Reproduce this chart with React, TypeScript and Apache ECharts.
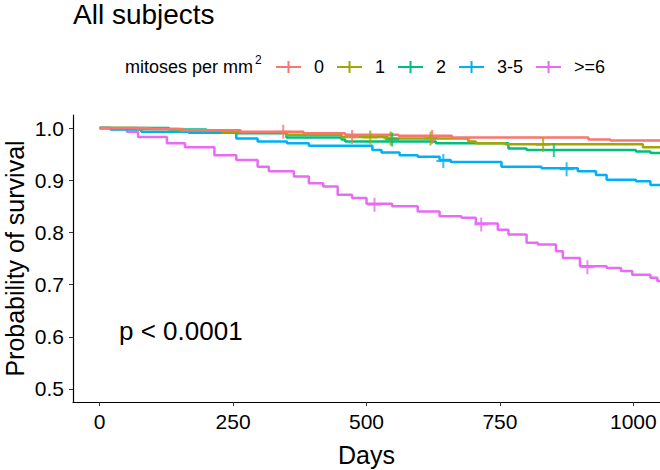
import React, { useEffect, useRef } from "react";
import * as echarts from "echarts";

const groups = ["0", "1", "2", "3-5", ">=6"];
const colors = ["#F8766D", "#A3A500", "#00BF7D", "#00B0F6", "#E76BF3"];

const curve0 = [[0, 1], [95, 0.998], [157, 0.996], [264, 0.993], [382, 0.99], [460, 0.987], [560, 0.985], [660, 0.982], [916, 0.978], [957, 0.976], [1050, 0.976]];
const curve1 = [[0, 1], [70, 0.998], [150, 0.995], [230, 0.992], [350, 0.987], [453, 0.983], [540, 0.98], [691, 0.974], [705, 0.971], [760, 0.969], [1018, 0.963], [1050, 0.962]];
const curve2 = [[0, 1], [130, 0.997], [200, 0.994], [256, 0.99], [350, 0.982], [453, 0.978], [460, 0.974], [630, 0.971], [766, 0.961], [800, 0.958], [1005, 0.955], [1032, 0.952], [1050, 0.952]];
const curve3 = [[0, 1], [20, 0.997], [78, 0.993], [167, 0.991], [256, 0.98], [296, 0.974], [351, 0.971], [392, 0.966], [511, 0.958], [528, 0.953], [562, 0.948], [596, 0.945], [637, 0.939], [658, 0.935], [753, 0.926], [828, 0.923], [896, 0.917], [930, 0.91], [950, 0.901], [1005, 0.898], [1032, 0.891], [1050, 0.891]];
const curve4 = [[0, 1], [20, 0.998], [51, 0.993], [72, 0.983], [126, 0.971], [160, 0.963], [215, 0.948], [256, 0.939], [296, 0.926], [317, 0.917], [364, 0.907], [392, 0.894], [419, 0.888], [446, 0.872], [473, 0.866], [500, 0.855], [548, 0.85], [596, 0.84], [637, 0.831], [678, 0.828], [705, 0.817], [746, 0.805], [766, 0.796], [800, 0.78], [821, 0.777], [855, 0.764], [868, 0.751], [900, 0.735], [950, 0.732], [977, 0.726], [998, 0.719], [1032, 0.713], [1045, 0.707], [1050, 0.707]];
const curves = [curve0, curve1, curve2, curve3, curve4];

const censor0 = [[344, 0.993], [473, 0.983], [623, 0.983]];
const censor1 = [[507, 0.982], [545, 0.98], [620, 0.98], [831, 0.968]];
const censor2 = [[548, 0.978], [851, 0.958]];
const censor3 = [[644, 0.937], [875, 0.921]];
const censor4 = [[515, 0.853], [715, 0.815], [914, 0.733]];
const censors = [censor0, censor1, censor2, censor3, censor4];

const xTicks = [0, 250, 500, 750, 1000];
const yTicks = [0.5, 0.6, 0.7, 0.8, 0.9, 1.0];

const FONT = "'Liberation Sans', Arial, sans-serif";
const PLUS = "path://M6,0H8V6H14V8H8V14H6V8H0V6H6Z";
const LEGEND_ICON = "path://M0,5H25V7H0Z M11.5,0H13.5V12H11.5Z";

export default function App() {
  const ref = useRef<HTMLDivElement>(null);
  useEffect(() => {
    if (!ref.current) return;
    const chart = echarts.init(ref.current, null, { renderer: "svg" });
    const series: any[] = [];
    groups.forEach((g, i) => {
      series.push({
        name: g,
        type: "line",
        step: "end",
        data: curves[i],
        showSymbol: false,
        lineStyle: { color: colors[i], width: 2.5 },
        itemStyle: { color: colors[i] },
        z: 2 + (4 - i),
      });
    });
    groups.forEach((g, i) => {
      series.push({
        name: g,
        type: "scatter",
        data: censors[i],
        symbol: PLUS,
        symbolSize: 14,
        itemStyle: { color: colors[i] },
        z: 10,
      });
    });
    chart.setOption({
      animation: false,
      backgroundColor: "#ffffff",
      title: {
        text: "All subjects",
        left: 73,
        top: 0,
        padding: 0,
        textStyle: { fontFamily: FONT, fontSize: 28, fontWeight: "normal", color: "#000" },
      },
      legend: {
        left: 276,
        top: 58,
        padding: 0,
        itemWidth: 25,
        itemHeight: 12,
        itemGap: 13,
        textStyle: { fontFamily: FONT, fontSize: 18, color: "#000", padding: [0, 0, 0, 8] },
        data: groups.map((g, i) => ({ name: g, icon: LEGEND_ICON, itemStyle: { color: colors[i] } })),
      },
      graphic: [
        {
          type: "text",
          left: 125,
          top: 58,
          style: { text: "mitoses per mm", fontFamily: FONT, fontSize: 18, fill: "#000" },
        },
        {
          type: "text",
          left: 255,
          top: 54,
          style: { text: "2", fontFamily: FONT, fontSize: 12, fill: "#000" },
        },
        {
          type: "text",
          left: 119,
          top: 318,
          style: { text: "p < 0.0001", fontFamily: FONT, fontSize: 26, fill: "#000" },
        },
      ],
      grid: { left: 73, right: 0, top: 115, bottom: 68, containLabel: false, outerBoundsMode: "none" },
      xAxis: {
        type: "value",
        min: -50,
        max: 1050,
        name: "Days",
        nameLocation: "middle",
        nameGap: 40,
        nameTextStyle: { fontFamily: FONT, fontSize: 25, color: "#000" },
        axisLine: { show: true, onZero: false, lineStyle: { color: "#000", width: 1.2 } },
        axisTick: { show: true, customValues: xTicks, length: 4, lineStyle: { color: "#333" } },
        axisLabel: {
          customValues: xTicks,
          fontFamily: FONT,
          fontSize: 21,
          color: "#000",
          margin: 9,
          formatter: (v: number) => String(v),
        },
        splitLine: { show: false },
      },
      yAxis: {
        type: "value",
        min: 0.475,
        max: 1.025,
        name: "Probability of survival",
        nameLocation: "middle",
        nameGap: 46,
        nameMoveOverlap: false,
        nameTextStyle: { fontFamily: FONT, fontSize: 25, color: "#000" },
        axisLine: { show: true, onZero: false, lineStyle: { color: "#000", width: 1.2 } },
        axisTick: { show: true, customValues: yTicks, length: 4, lineStyle: { color: "#333" } },
        axisLabel: {
          customValues: yTicks,
          fontFamily: FONT,
          fontSize: 21,
          color: "#000",
          margin: 9,
          formatter: (v: number) => v.toFixed(1),
        },
        splitLine: { show: false },
      },
      series,
    });
    return () => chart.dispose();
  }, []);
  return <div ref={ref} style={{ position: "absolute", left: 0, top: 0, width: 660, height: 470 }} />;
}
